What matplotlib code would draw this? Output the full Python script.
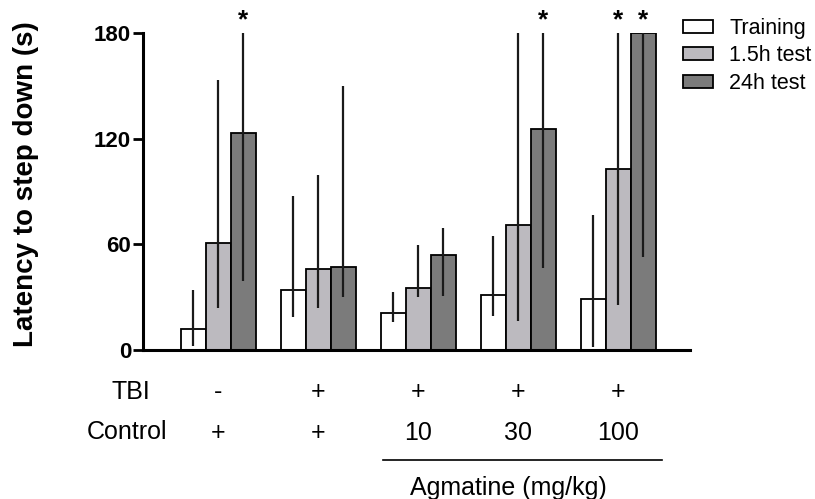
import matplotlib
matplotlib.use("Agg")
import matplotlib.pyplot as plt
import numpy as np

plt.rcParams['font.family'] = ['Liberation Sans', 'DejaVu Sans']

groups_tbi = ["-", "+", "+", "+", "+"]
groups_ctrl = ["+", "+", "10", "30", "100"]
series_names = ["Training", "1.5h test", "24h test"]

training = [12, 34, 21, 31, 29]
training_lo = [2.4, 19, 15.7, 19.5, 1.5]
training_hi = [34, 87.6, 33, 65, 76.7]

test15 = [60.5, 46, 35, 71, 102.5]
test15_lo = [24, 24, 30, 16.6, 25.7]
test15_hi = [153.5, 99.5, 59.4, 180, 180]

test24 = [123, 47, 54, 125.5, 180]
test24_lo = [39.4, 30, 30.7, 46.3, 53]
test24_hi = [180, 150, 69, 180, 180]

# significance markers: (group index, series index)
stars = [(0, 2), (3, 2), (4, 1), (4, 2)]

colors = ["#ffffff", "#bcbabf", "#7b7b7b"]
yticks = [0, 60, 120, 180]

fig = plt.figure(figsize=(8.15, 4.99), dpi=100)
ax = fig.add_axes([143/815, 1-350/499, (690-143)/815, (350-33)/499])

x = np.arange(len(training))
w = 0.25
data = [(training, training_lo, training_hi),
        (test15, test15_lo, test15_hi),
        (test24, test24_lo, test24_hi)]
for i, (vals, lo, hi) in enumerate(data):
    xs = x + (i - 1) * w
    vals = np.array(vals); lo = np.array(lo); hi = np.array(hi)
    ax.bar(xs, vals, width=w, color=colors[i], edgecolor="black",
           linewidth=1.3, label=series_names[i], zorder=2)
    ax.errorbar(xs, vals, yerr=[vals - lo, hi - vals], fmt="none",
                ecolor="#1a1a1a", elinewidth=1.6, capsize=0, zorder=3)

for g, s in stars:
    ax.text(x[g] + (s - 1) * w, 180.5, "*", ha="center", va="bottom",
            fontsize=19, fontweight="bold")

ax.set_xlim(-0.75, 4.72)
ax.set_ylim(0, 180)
ax.set_yticks(yticks)
ax.set_yticklabels([str(t) for t in yticks], fontsize=16, fontweight="bold")
ax.set_xticks([])
for sp in ["top", "right"]:
    ax.spines[sp].set_visible(False)
ax.spines["left"].set_linewidth(2.2)
ax.spines["bottom"].set_linewidth(2.2)
ax.tick_params(axis="y", direction="out", length=7, width=2.0, pad=1.5)
ax.set_ylabel("Latency to step down (s)", fontsize=20, fontweight="bold")
ax.yaxis.set_label_coords(-0.19, 0.522)

# bottom labels
def fx(px):
    return px / 815
def fy(py):
    return 1 - py / 499

fs = 18
fig.text(fx(131), fy(392), "TBI", ha="center", va="center", fontsize=fs)
fig.text(fx(127), fy(432), "Control", ha="center", va="center", fontsize=fs)
for i in range(len(x)):
    xd = ax.transData.transform((x[i], 0))[0]
    xf = fig.transFigure.inverted().transform((xd, 0))[0]
    fig.text(xf, fy(392), groups_tbi[i], ha="center", va="center", fontsize=fs)
    fig.text(xf, fy(433), groups_ctrl[i], ha="center", va="center", fontsize=fs)

fig.add_artist(plt.Line2D([fx(383), fx(662)], [fy(460), fy(460)],
                          color="black", linewidth=1.2, transform=fig.transFigure))
fig.text(fx(508), fy(488), "Agmatine (mg/kg)", ha="center", va="center", fontsize=fs)

fig.legend(loc="upper left", bbox_to_anchor=(fx(683), fy(18)), frameon=False,
           fontsize=15.5, handlelength=1.4, handleheight=0.55, labelspacing=0.3,
           handletextpad=0.75, borderaxespad=0, borderpad=0)

fig.savefig("out.png", dpi=100)
